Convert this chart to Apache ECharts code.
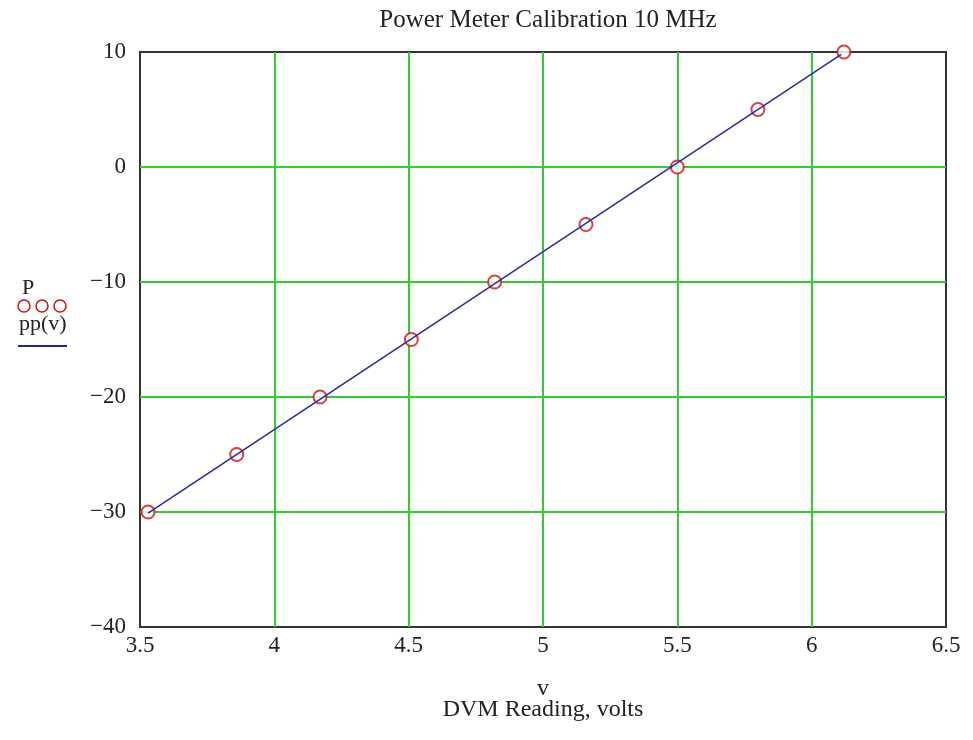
<!DOCTYPE html>
<html>
<head>
<meta charset="utf-8">
<script src="https://cdn.jsdelivr.net/npm/echarts@6/dist/echarts.min.js"></script>
<style>
  html, body { margin: 0; padding: 0; background: #fff; }
  #chart { width: 973px; height: 740px; }
</style>
</head>
<body>
<div id="chart"></div>
<script>
  // measured points: DVM reading (volts) vs power (dBm)
  var dvmVolts = [3.53, 3.86, 4.17, 4.51, 4.82, 5.16, 5.50, 5.80, 6.12]
  var powerP = [-30, -25, -20, -15, -10, -5, 0, 5, 10]
  // fitted curve pp(v), end points
  var fitVolts = [3.53, 6.11]
  var fitPower = [-30.1, 9.8]

  var xTicks = [3.5, 4, 4.5, 5, 5.5, 6, 6.5]
  var yTicks = [-40, -30, -20, -10, 0, 10]

  var serif = '"Liberation Serif", "DejaVu Serif", serif'

  var pts = dvmVolts.map(function (v, i) { return [v, powerP[i]] })
  var fit = fitVolts.map(function (v, i) { return [v, fitPower[i]] })

  // little legend at the left, drawn by hand like the original
  var legendMarks = [
    { type: 'text', left: 22, top: 277, style: { text: 'P', font: '22px ' + serif, fill: '#222' } },
    { type: 'text', left: 19, top: 313, style: { text: 'pp(v)', font: '22px ' + serif, fill: '#222' } },
    { type: 'line', shape: { x1: 18, y1: 346, x2: 67, y2: 346 }, style: { stroke: '#2020b0', lineWidth: 2 } }
  ]
  ;[24, 42, 60].forEach(function (cx) {
    legendMarks.push({ type: 'circle', shape: { cx: cx, cy: 306, r: 6 }, style: { fill: 'none', stroke: '#d01010', lineWidth: 1.5 } })
  })

  var option = {
    backgroundColor: '#fff',
    animation: false,
    title: {
      text: 'Power Meter Calibration 10 MHz',
      left: 543,
      textAlign: 'center',
      top: 3,
      textStyle: { fontFamily: serif, fontSize: 25, fontWeight: 'normal', color: '#222' }
    },
    grid: {
      left: 140, right: 27, top: 52, bottom: 113,
      show: true, borderColor: '#333', borderWidth: 2, backgroundColor: 'transparent'
    },
    xAxis: {
      type: 'value',
      min: xTicks[0], max: xTicks[xTicks.length - 1], interval: 0.5,
      axisLine: { show: false },
      axisTick: { show: false },
      axisLabel: { fontFamily: serif, fontSize: 23, color: '#222', margin: 7 },
      splitLine: { show: true, showMinLine: false, showMaxLine: false, lineStyle: { color: '#33cc33', width: 2 } },
      name: 'v\nDVM Reading, volts',
      nameLocation: 'middle',
      nameGap: 51,
      nameTextStyle: { fontFamily: serif, fontSize: 24, color: '#222', lineHeight: 21 }
    },
    yAxis: {
      type: 'value',
      min: yTicks[0], max: yTicks[yTicks.length - 1], interval: 10,
      axisLine: { show: false },
      axisTick: { show: false },
      axisLabel: {
        fontFamily: serif, fontSize: 23, color: '#222', margin: 14,
        formatter: function (v) { return String(v).replace('-', '\u2212') }
      },
      splitLine: { show: true, showMinLine: false, showMaxLine: false, lineStyle: { color: '#33cc33', width: 2 } }
    },
    graphic: legendMarks,
    series: [{
      name: 'pp(v)',
      type: 'line',
      data: fit,
      symbol: 'none',
      lineStyle: { color: '#2828a8', width: 1.5 },
      z: 3
    }, {
      name: 'P',
      type: 'scatter',
      data: pts,
      symbol: 'emptyCircle',
      symbolSize: 13,
      itemStyle: { color: '#d01010', borderWidth: 1.5 },
      z: 2
    }]
  }

  var chart = echarts.init(document.getElementById('chart'))
  chart.setOption(option)
</script>
</body>
</html>
